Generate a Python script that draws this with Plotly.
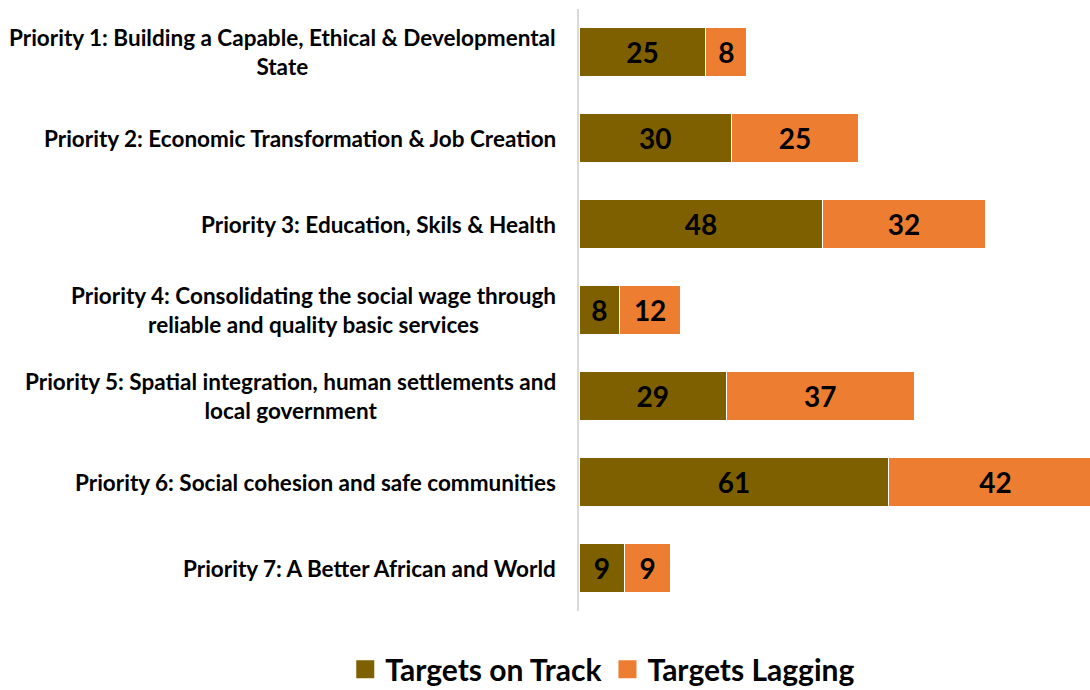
import plotly.graph_objects as go

categories = [
    "Priority 1: Building a Capable, Ethical & Developmental<br>State",
    "Priority 2: Economic Transformation & Job Creation",
    "Priority 3: Education, Skils & Health",
    "Priority 4: Consolidating the social wage through<br>reliable and quality basic services",
    "Priority 5: Spatial integration, human settlements and<br>local government",
    "Priority 6: Social cohesion and safe communities",
    "Priority 7: A Better African and World",
]
on_track = [25, 30, 48, 8, 29, 61, 9]
lagging = [8, 25, 32, 12, 37, 42, 9]
series_names = ["Targets on Track", "Targets Lagging"]
series_colors = ["#7F6000", "#ED7D31"]

FONT = "Lato"
ycats = [f"p{i+1}" for i in range(len(categories))]

fig = go.Figure()
for vals, nm, col in zip([on_track, lagging], series_names, series_colors):
    fig.add_trace(go.Bar(
        y=ycats, x=vals, orientation="h", name=nm, showlegend=False,
        marker=dict(color=col, line=dict(color="white", width=1)),
        text=vals, textposition="inside", insidetextanchor="middle",
        textfont=dict(family=FONT, size=28, color="black", weight="bold"),
        constraintext="none",
    ))
# legend-only entries with larger square swatches
for nm, col in zip(series_names, series_colors):
    fig.add_trace(go.Scatter(
        x=[None], y=[None], mode="markers", name=nm, showlegend=True,
        marker=dict(symbol="square", size=16, color=col, line=dict(color=col, width=2)),
    ))

for yc, lab in zip(ycats, categories):
    fig.add_annotation(
        x=0, xref="paper", y=yc, yref="y", text=f"<b>{lab}</b>",
        xanchor="right", yanchor="middle", align="center", xshift=-21,
        showarrow=False, font=dict(family=FONT, size=22.5, color="black"),
    )

fig.update_layout(
    width=1090, height=690,
    margin=dict(l=579, r=0, t=9, b=79),
    barmode="stack", bargap=0.42,
    plot_bgcolor="white", paper_bgcolor="white",
    font=dict(family=FONT, color="black"),
    showlegend=True,
    legend=dict(
        orientation="h", xref="container", yref="container",
        x=0.553, y=0.03, xanchor="center", yanchor="middle",
        font=dict(family=FONT, size=30, color="black", weight="bold"),
        itemwidth=30, traceorder="normal", itemsizing="trace",
    ),
    uniformtext=dict(mode=False),
)
fig.update_xaxes(range=[0, 100.6], visible=False, fixedrange=True)
fig.update_yaxes(
    categoryorder="array", categoryarray=ycats, autorange="reversed",
    showticklabels=False, showline=True, linecolor="#D9D9D9", linewidth=2,
    showgrid=False, zeroline=False, ticks="",
)

fig.write_html("out.html")
